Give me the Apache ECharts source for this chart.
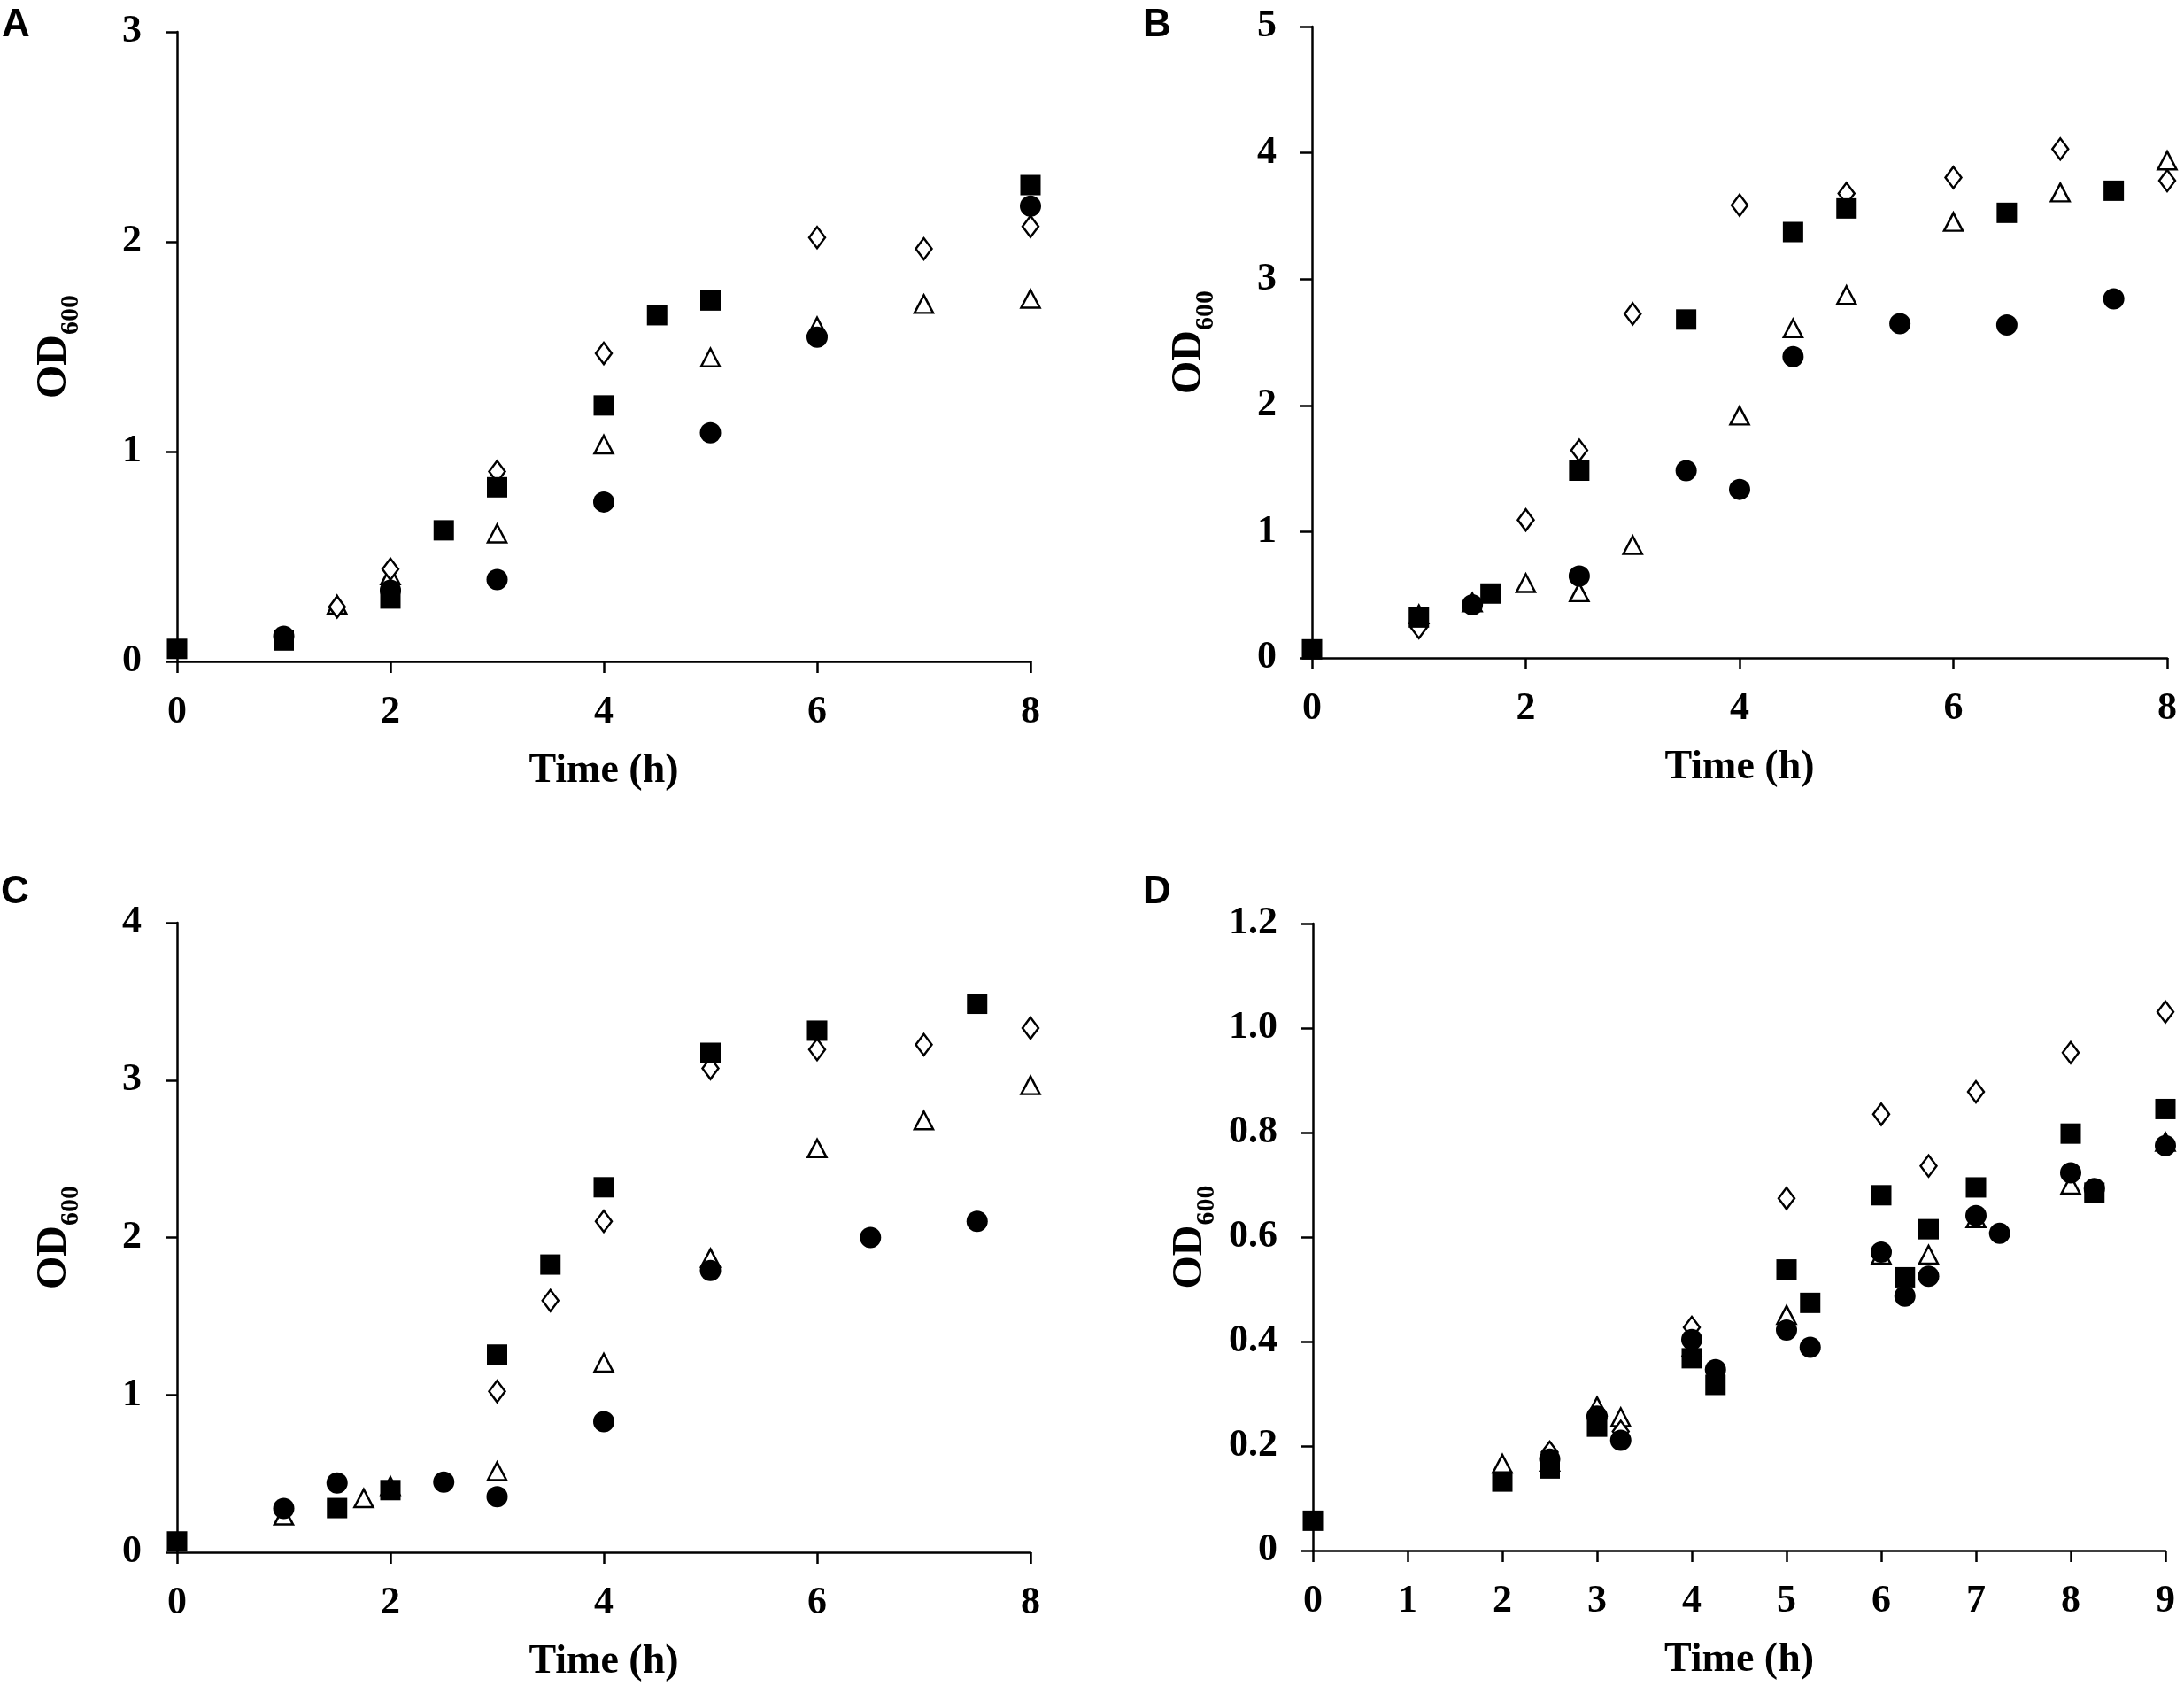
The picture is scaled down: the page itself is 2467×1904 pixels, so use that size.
<!DOCTYPE html>
<html>
<head>
<meta charset="utf-8">
<title>OD600 growth curves</title>
<script src="https://cdn.jsdelivr.net/npm/echarts@6/dist/echarts.min.js"></script>
<style>
  html, body { margin: 0; padding: 0; background: #fff; }
  #chart { width: 2467px; height: 1904px; }
</style>
</head>
<body>
<div id="chart"></div>
<script>
// values, [time (h), OD600]
// panel A
var aCircle   = [[1, 0.12], [2, 0.34], [3, 0.39], [4, 0.76], [5, 1.09], [6, 1.545], [8, 2.17]];
var aSquare   = [[0, 0.06], [1, 0.10], [2, 0.30], [2.5, 0.625], [3, 0.83], [4, 1.22], [4.5, 1.65], [5, 1.72], [8, 2.27]];
var aDiamond  = [[1.5, 0.26], [2, 0.44], [3, 0.905], [4, 1.468], [6, 2.02], [7, 1.966], [8, 2.073]];
var aTriangle = [[1.5, 0.27], [2, 0.41], [3, 0.61], [4, 1.034], [5, 1.448], [6, 1.596], [7, 1.703], [8, 1.728]];
// panel B
var bCircle   = [[1.5, 0.42], [2.5, 0.648], [3.5, 1.483], [4, 1.335], [4.5, 2.386], [5.5, 2.648], [6.5, 2.636], [7.5, 2.843]];
var bSquare   = [[0, 0.068], [1, 0.32], [1.67, 0.51], [2.5, 1.483], [3.5, 2.68], [4.5, 3.373], [5, 3.56], [6.5, 3.525], [7.5, 3.70]];
var bDiamond  = [[1, 0.24], [2, 1.093], [2.5, 1.644], [3, 2.725], [4, 3.585], [5, 3.678], [6, 3.805], [7, 4.03], [8, 3.78]];
var bTriangle = [[1, 0.345], [1.5, 0.44], [2, 0.593], [2.5, 0.52], [3, 0.894], [4, 1.919], [4.5, 2.61], [5, 2.873], [6, 3.453], [7, 3.686], [8, 3.94]];
// panel C
var cCircle   = [[1, 0.278], [1.5, 0.44], [2.5, 0.446], [3, 0.353], [4, 0.83], [5, 1.79], [6.5, 2.0], [7.5, 2.103]];
var cSquare   = [[0, 0.069], [1.5, 0.281], [2, 0.395], [3, 1.256], [3.5, 1.828], [4, 2.319], [5, 3.173], [6, 3.314], [7.5, 3.485]];
var cDiamond  = [[3, 1.022], [3.5, 1.599], [4, 2.103], [5, 3.074], [6, 3.194], [7, 3.225], [8, 3.331]];
var cTriangle = [[1, 0.233], [1.75, 0.343], [2, 0.42], [3, 0.515], [4, 1.204], [5, 1.87], [6, 2.566], [7, 2.744], [8, 2.967]];
// panel D
var dCircle   = [[2.5, 0.175], [3, 0.257], [3.25, 0.211], [4, 0.404], [4.25, 0.346], [5, 0.422], [5.25, 0.389], [6, 0.571], [6.25, 0.487], [6.5, 0.525], [7, 0.641], [7.25, 0.607], [8, 0.723], [8.25, 0.693], [9, 0.775]];
var dSquare   = [[0, 0.057], [2, 0.132], [2.5, 0.157], [3, 0.237], [4, 0.368], [4.25, 0.317], [5, 0.538], [5.25, 0.474], [6, 0.68], [6.25, 0.523], [6.5, 0.615], [7, 0.695], [8, 0.798], [8.25, 0.685], [9, 0.845]];
var dDiamond  = [[2.5, 0.188], [3.25, 0.228], [4, 0.427], [5, 0.674], [6, 0.835], [6.5, 0.736], [7, 0.878], [8, 0.953], [9, 1.031]];
var dTriangle = [[2, 0.166], [2.5, 0.17], [3, 0.276], [3.25, 0.255], [4, 0.389], [5, 0.451], [6, 0.566], [6.5, 0.566], [7, 0.636], [8, 0.70], [9, 0.782]];

// axis ranges per panel
var panelLetters = ['A', 'B', 'C', 'D'];
var xMaxs  = [8, 8, 8, 9];
var xSteps = [2, 2, 2, 1];
var yMaxs  = [3, 5, 4, 1.2];
var ySteps = [1, 1, 1, 0.2];
var panelData = [
  [aTriangle, aDiamond, aCircle, aSquare],
  [bTriangle, bDiamond, bCircle, bSquare],
  [cTriangle, cDiamond, cCircle, cSquare],
  [dTriangle, dDiamond, dCircle, dSquare]
];

// layout in pixels
var grids = [
  { left: 200,  top: 36,   width: 964, height: 711 },
  { left: 1482, top: 30,   width: 966, height: 713 },
  { left: 200,  top: 1042, width: 964, height: 711 },
  { left: 1483, top: 1043, width: 963, height: 708 }
];
var letterPos = [[2, 7], [1291, 7], [1, 986], [1291, 986]];

var serif = "'Liberation Serif', 'Times New Roman', serif";
var axisLineStyle = { color: '#000', width: 2.5 };

// marker styles, drawn in this order: triangle, diamond, circle, square
var markers = [
  { name: 'Open triangle', symbol: 'triangle', size: [21, 20], fill: '#fff' },
  { name: 'Open diamond',  symbol: 'diamond',  size: [18, 24], fill: '#fff' },
  { name: 'Filled circle', symbol: 'circle',   size: 24,       fill: '#000' },
  { name: 'Filled square', symbol: 'rect',     size: 23,       fill: '#000' }
];

var xAxes = [], yAxes = [], series = [], titles = [];
for (var p = 0; p < 4; p++) {
  xAxes.push({
    type: 'value',
    gridIndex: p,
    min: 0,
    max: xMaxs[p],
    interval: xSteps[p],
    name: 'Time (h)',
    nameLocation: 'middle',
    nameGap: 101,
    nameTextStyle: { fontFamily: serif, fontWeight: 'bold', fontSize: 46, color: '#000' },
    axisLine: { lineStyle: axisLineStyle },
    axisTick: { inside: false, length: 13, lineStyle: axisLineStyle },
    axisLabel: { margin: 36, fontFamily: serif, fontWeight: 'bold', fontSize: 44, color: '#000' },
    splitLine: { show: false }
  });
  yAxes.push({
    type: 'value',
    gridIndex: p,
    min: 0,
    max: yMaxs[p],
    interval: ySteps[p],
    name: '{a|OD}{b|600}',
    nameLocation: 'middle',
    nameRotate: 90,
    nameGap: 114,
    nameTextStyle: {
      rich: {
        a: { fontFamily: serif, fontWeight: 'bold', fontSize: 48, lineHeight: 48, color: '#000', verticalAlign: 'top' },
        b: { fontFamily: serif, fontWeight: 'bold', fontSize: 30, lineHeight: 30, color: '#000', verticalAlign: 'top', padding: [27, 0, 0, 0] }
      }
    },
    axisLine: { show: true, lineStyle: axisLineStyle },
    axisTick: { show: true, inside: false, length: 13, lineStyle: axisLineStyle },
    axisLabel: {
      margin: 40,
      fontFamily: serif, fontWeight: 'bold', fontSize: 44, color: '#000',
      formatter: p === 3 ? function (v) { return v === 0 ? '0' : v.toFixed(1); } : null
    },
    splitLine: { show: false }
  });
  titles.push({
    text: panelLetters[p],
    left: letterPos[p][0],
    top: letterPos[p][1],
    padding: 0,
    textStyle: { fontFamily: "'Liberation Sans', Arial, sans-serif", fontWeight: 'bold', fontSize: 44, color: '#000' }
  });
  for (var m = 0; m < markers.length; m++) {
    series.push({
      name: markers[m].name,
      type: 'scatter',
      xAxisIndex: p,
      yAxisIndex: p,
      data: panelData[p][m],
      symbol: markers[m].symbol,
      symbolSize: markers[m].size,
      clip: false,
      itemStyle: { color: markers[m].fill, borderColor: '#000', borderWidth: markers[m].fill === '#fff' ? 2.5 : 0, opacity: 1 },
      emphasis: { disabled: true }
    });
  }
}

var option = {
  backgroundColor: '#fff',
  animation: false,
  title: titles,
  grid: grids,
  xAxis: xAxes,
  yAxis: yAxes,
  series: series
};

var myChart = echarts.init(document.getElementById('chart'));
myChart.setOption(option);
</script>
</body>
</html>
